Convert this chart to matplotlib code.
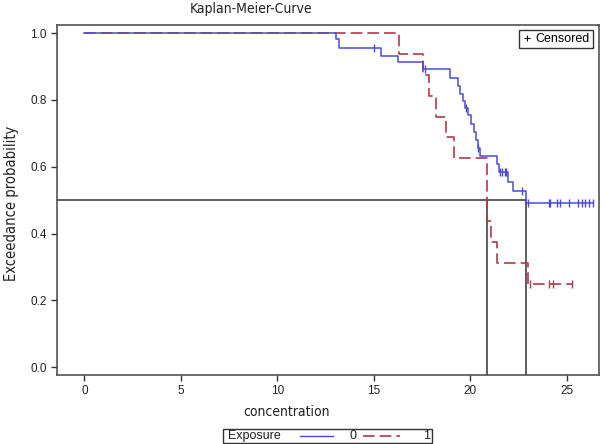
# Kaplan-Meier curve, two exposure groups
import numpy as np
import matplotlib
matplotlib.use('Agg')
import matplotlib.pyplot as plt
import matplotlib.font_manager as fm
from matplotlib.lines import Line2D
from matplotlib.patches import Rectangle

plt.rcParams['font.family'] = ['Liberation Sans', 'DejaVu Sans']

# look for a narrow, non-bold face for the axis titles (SAS uses a condensed font)
narrow = dict(family='Liberation Sans', fontstretch='normal', fontweight='normal')
lab_size = 9.0
for fam, st in [('Noto Sans', 'extra-condensed'), ('Noto Sans', 'condensed'),
                ('Noto Sans', 'semi-condensed'), ('DejaVu Sans', 'condensed'),
                ('Liberation Sans Narrow', 'normal'), ('Open Sans', 'condensed')]:
    p = fm.findfont(fm.FontProperties(family=fam, stretch=st, weight='normal'))
    name = p.split('/')[-1].lower()
    if ('cond' in name or 'narrow' in name) and 'bold' not in name:
        narrow = dict(family=fam, fontstretch=st, fontweight='normal')
        lab_size = 10
        break

# exposure 0 : event times / survival after each step
time0 = [0, 13.03, 13.21, 15.37, 16.24, 17.56, 18.95, 19.35, 19.47, 19.6, 19.72,
         19.9, 20.05, 20.18, 20.3, 20.38, 20.5, 21.37, 21.49, 21.97, 22.2, 22.9]
surv0 = [1.0, 0.982, 0.954, 0.932, 0.912, 0.892, 0.866, 0.843, 0.818, 0.796, 0.776,
         0.754, 0.729, 0.704, 0.68, 0.655, 0.632, 0.608, 0.583, 0.555, 0.527, 0.492]
cens0 = [15.03, 17.65, 19.8, 20.42, 21.54, 21.66, 21.78, 21.87, 22.66,
         23.0, 24.08, 24.15, 24.51, 24.65, 25.13, 25.6, 25.77, 25.94, 26.15, 26.35]
end0 = 26.35

# exposure 1
time1 = [0, 16.31, 17.56, 17.87, 18.22, 18.74, 19.17, 20.85, 21.06, 21.4, 23.0]
surv1 = [1.0, 0.9375, 0.875, 0.8125, 0.75, 0.6875, 0.625, 0.4375, 0.375, 0.3125, 0.25]
cens1 = [23.1, 24.1, 24.3, 25.25]
end1 = 25.25

# median times
med0 = 22.9
med1 = 20.85

blue = '#4b4bd0'
red = '#b03c4a'

fig = plt.figure(figsize=(6.04, 4.44), dpi=100)
ax = fig.add_axes([57.3/604, 1-375/444, (599-57.3)/604, (375-25)/444])


def surv_at(times, surv, t):
    idx = np.searchsorted(times, t, side='right') - 1
    return np.array(surv)[idx]


# median reference lines
ax.plot([-5, med0], [0.5, 0.5], color='#333333', lw=1.1, zorder=1)
ax.plot([med1, med1], [-1, 0.5], color='#333333', lw=1.1, zorder=1)
ax.plot([med0, med0], [-1, 0.5], color='#333333', lw=1.1, zorder=1)

ax.step(time0 + [end0], surv0 + [surv0[-1]], where='post', color=blue, lw=1.1, zorder=3)
ax.step(time1 + [end1], surv1 + [surv1[-1]], where='post', color=red, lw=1.2,
        dashes=(7, 3), zorder=2)

ax.plot(cens0, surv_at(time0, surv0, cens0), ls='none', marker='|', ms=6, mew=1.0,
        color=blue, zorder=4)
ax.plot(cens1, surv_at(time1, surv1, cens1), ls='none', marker='|', ms=6, mew=1.0,
        color=red, zorder=4)

ax.set_xlim(-1.4, 26.67)
ax.set_ylim(-0.023, 1.024)
ax.set_xticks([0, 5, 10, 15, 20, 25])
ax.set_yticks([0.0, 0.2, 0.4, 0.6, 0.8, 1.0])
ax.set_yticklabels(['%.1f' % v for v in [0.0, 0.2, 0.4, 0.6, 0.8, 1.0]])
ax.tick_params(direction='out', length=4, width=1, colors='#333333', labelsize=8.5,
               labelcolor='#222222')
for s in ax.spines.values():
    s.set_color('#444444')
    s.set_linewidth(1.1)

txt = dict(ha='center', va='center', color='#222222', **narrow)
fig.text(251/604, 1-9.5/444, 'Kaplan-Meier-Curve', fontsize=lab_size, **txt)
fig.text(287/604, 1-411.7/444, 'concentration', fontsize=lab_size, **txt)
fig.text(11.7/604, 1-203/444, 'Exceedance probability', rotation=90,
         fontsize=lab_size + 0.5, **txt)

# censored legend
ax.legend(handles=[Line2D([], [], ls='none', marker='+', color='black', ms=5, mew=0.8)],
          labels=['Censored'], loc='upper right', bbox_to_anchor=(593/604, 1-30/444),
          bbox_transform=fig.transFigure, fancybox=False, edgecolor='#333333',
          borderpad=0.25, handlelength=0.7, handletextpad=0.35, fontsize=9,
          framealpha=1, borderaxespad=0)

# exposure legend at the bottom
ly = 1-435.5/444
fig.patches.append(Rectangle((223.3/604, 1-443.3/444), (431.7-223.3)/604, 14/444,
                             transform=fig.transFigure, fill=False, edgecolor='#333333', lw=1))
fig.text(228/604, ly, 'Exposure', fontsize=9, ha='left', va='center', color='#222222')
fig.lines.append(Line2D([300/604, 333/604], [ly, ly], transform=fig.transFigure,
                        color=blue, lw=1.0))
fig.text(353/604, ly, '0', fontsize=9, ha='center', va='center', color='#222222')
fig.lines.append(Line2D([363/604, 400/604], [ly, ly], transform=fig.transFigure,
                        color=red, lw=1.2, dashes=(7, 3)))
fig.text(427/604, ly, '1', fontsize=9, ha='center', va='center', color='#222222')

fig.savefig('out.png', dpi=100)
